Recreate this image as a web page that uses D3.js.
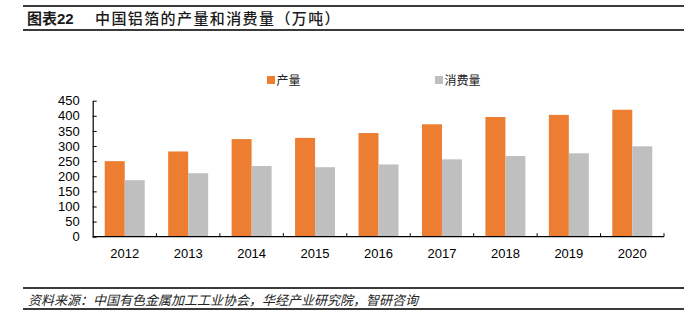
<!DOCTYPE html>
<html>
<head>
<meta charset="utf-8">
<script src="https://cdn.jsdelivr.net/npm/d3@7"></script>
<style>
  html, body { margin: 0; padding: 0; background: #fff; }
  svg { display: block; }
</style>
</head>
<body>
<svg id="chart" width="689" height="328"></svg>
<script>
const categories = ["2012", "2013", "2014", "2015", "2016", "2017", "2018", "2019", "2020"];
const seriesNames = ["产量", "消费量"];
const production = [250, 282, 323, 327, 343, 372, 396, 403, 420];
const consumption = [187, 210, 234, 230, 239, 256, 267, 276, 299];
const yTicks = [0, 50, 100, 150, 200, 250, 300, 350, 400, 450];
const titlePrefix = "图表22";
const titleText = "中国铝箔的产量和消费量（万吨）";
const sourceText = "资料来源：中国有色金属加工工业协会，华经产业研究院，智研咨询";

const colors = ["#ED7D31", "#BFBFBF"];
const latin = "'Liberation Sans', Arial, sans-serif";
const cjk = "'Liberation Sans', 'Noto Sans CJK SC', sans-serif";

const svg = d3.select("#chart");

// header / footer rules
const rules = [6, 30, 288, 309];
svg.selectAll("line.rule").data(rules).enter().append("line")
  .attr("x1", 23).attr("x2", 684)
  .attr("y1", d => d).attr("y2", d => d)
  .attr("stroke", "#3a3a3a").attr("stroke-width", 1.8);

svg.append("text").attr("x", 27).attr("y", 23.5)
  .attr("font-family", cjk).attr("font-size", 15).attr("font-weight", "bold")
  .attr("fill", "#1a1a1a").text(titlePrefix);
svg.append("text").attr("x", 95).attr("y", 23.5)
  .attr("font-family", cjk).attr("font-size", 15).attr("font-weight", 500)
  .attr("letter-spacing", 1.4)
  .attr("fill", "#1a1a1a").text(titleText);

svg.append("text").attr("x", 28).attr("y", 305)
  .attr("font-family", cjk).attr("font-size", 13).attr("font-style", "italic")
  .attr("fill", "#222").text(sourceText);

// scales
const x0 = d3.scaleBand().domain(categories).range([93, 664])
  .paddingInner(0.37).paddingOuter(0.185);
const x1 = d3.scaleBand().domain(seriesNames).range([0, x0.bandwidth()]).padding(0);
const y = d3.scaleLinear().domain([0, 450]).range([236.7, 100.7]);

const data = categories.map((c, i) => ({ cat: c, vals: [production[i], consumption[i]] }));

const g = svg.append("g");
const groups = g.selectAll("g.cat").data(data).enter().append("g")
  .attr("transform", d => `translate(${x0(d.cat)},0)`);
groups.selectAll("rect").data(d => d.vals.map((v, j) => ({ s: seriesNames[j], v, j })))
  .enter().append("rect")
  .attr("x", d => x1(d.s))
  .attr("width", x1.bandwidth())
  .attr("y", d => y(d.v))
  .attr("height", d => y(0) - y(d.v))
  .attr("fill", d => colors[d.j]);

// y axis
const yAxis = d3.axisLeft(y).tickValues(yTicks).tickSizeInner(-4).tickSizeOuter(0).tickPadding(13);
const ya = svg.append("g").attr("transform", "translate(92.7,0)").call(yAxis);
ya.select(".domain").attr("stroke", "#000").attr("stroke-width", 1.2);
ya.selectAll(".tick line").attr("stroke", "#000");
ya.selectAll(".tick text").attr("font-family", latin).attr("font-size", 13).attr("fill", "#000");

// x axis
const xAxis = d3.axisBottom(x0).tickSize(0).tickPadding(0);
const xa = svg.append("g").attr("transform", `translate(0,${y(0)})`).call(xAxis);
xa.select(".domain").attr("stroke", "#000").attr("stroke-width", 1.2)
  .attr("d", `M92.7,0H664`);
xa.selectAll(".tick text").attr("font-family", latin).attr("font-size", 13)
  .attr("fill", "#000").attr("dy", null).attr("y", 21);
// category boundary ticks (inward)
const step = x0.step();
const bounds = categories.map((c, i) => x0(c) - x0.paddingInner() * step / 2).concat([664]);
xa.selectAll("line.bnd").data(bounds.slice(1)).enter().append("line")
  .attr("x1", d => d).attr("x2", d => d).attr("y1", 0).attr("y2", -3.5)
  .attr("stroke", "#000").attr("stroke-width", 1);

// legend
const legendX = [267, 435];
const lg = svg.selectAll("g.leg").data(seriesNames).enter().append("g")
  .attr("transform", (d, i) => `translate(${legendX[i]},76)`);
lg.append("rect").attr("width", 8).attr("height", 8).attr("fill", (d, i) => colors[i]);
lg.append("text").attr("x", 9.5).attr("y", 8.5)
  .attr("font-family", cjk).attr("font-size", 12).attr("fill", "#222").text(d => d);
</script>
</body>
</html>
